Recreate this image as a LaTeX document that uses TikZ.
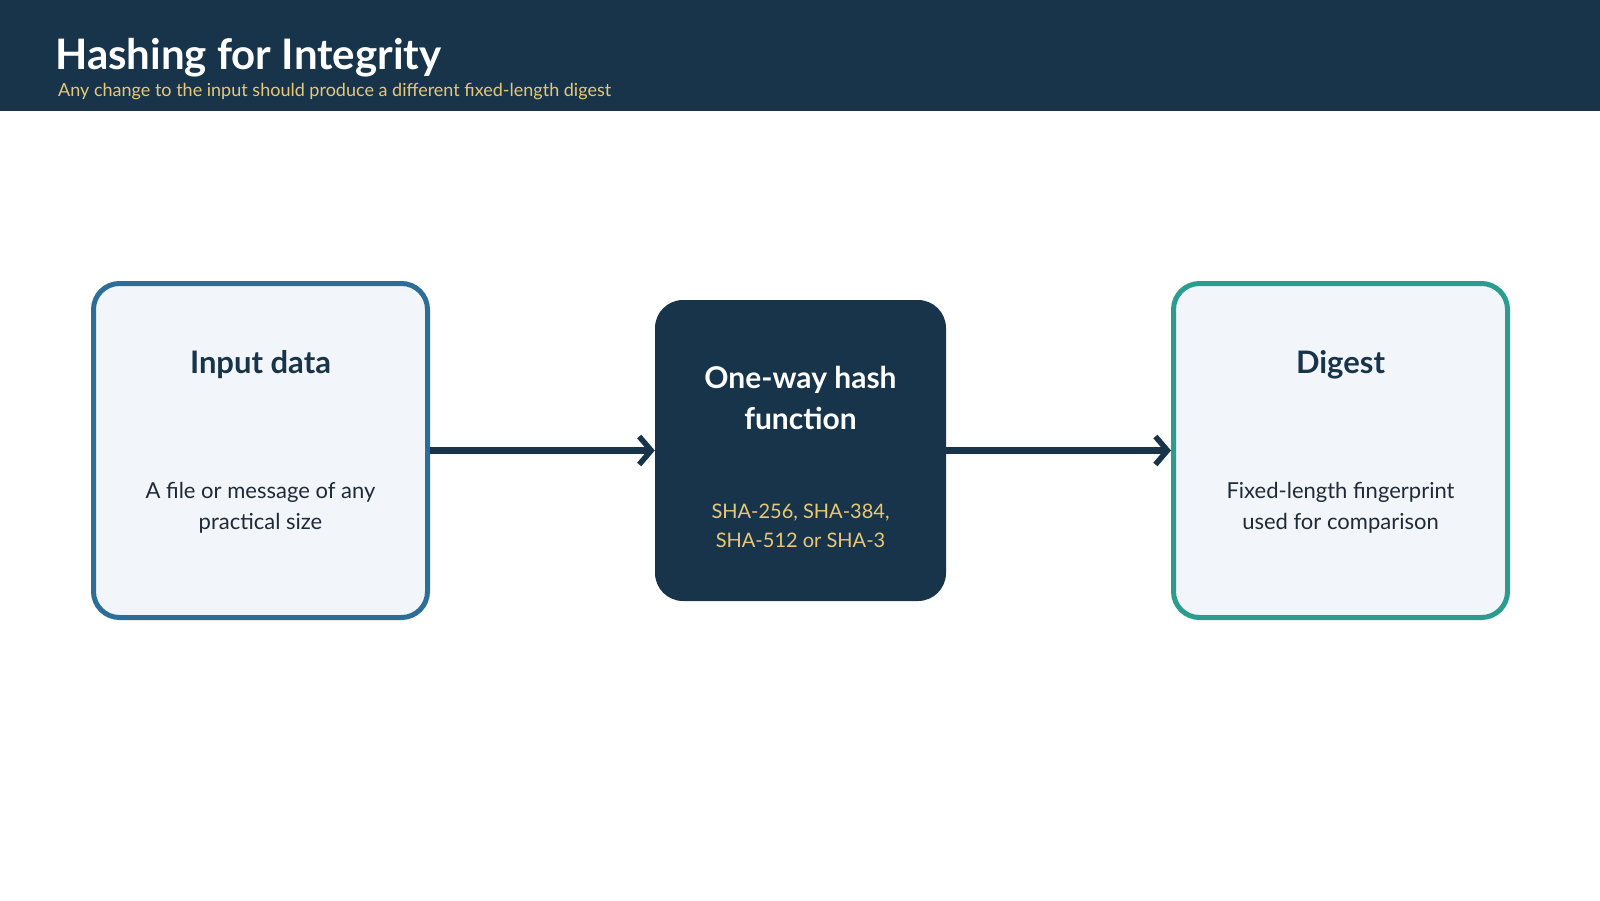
\documentclass[tikz,border=0pt]{standalone}
\usepackage{fontspec}
\setmainfont{Lato}
\usetikzlibrary{arrows.meta}
\definecolor{navy}{HTML}{17344B}
\definecolor{blueedge}{HTML}{2D6E99}
\definecolor{tealedge}{HTML}{2A9D8F}
\definecolor{boxfill}{HTML}{F2F6FA}
\definecolor{bodytext}{HTML}{1F2A37}
\definecolor{gold}{HTML}{E8C878}
\begin{document}
\begin{tikzpicture}[x=1pt,y=-1pt,
  lightbox/.style={rectangle, rounded corners=26pt, fill=boxfill, line width=5pt,
    minimum width=334pt, minimum height=334pt, inner sep=0pt},
  darkbox/.style={rectangle, rounded corners=28pt, fill=navy,
    minimum width=291pt, minimum height=301pt, inner sep=0pt},
  boxtitle/.style={anchor=base, inner sep=0pt, font=\fontsize{31}{36}\selectfont\bfseries, text=navy},
  boxbody/.style={anchor=base, inner sep=0pt, font=\fontsize{22}{26}\selectfont, text=bodytext},
  conn/.style={draw=navy, line width=7.5pt, -{Straight Barb[length=12pt, width=28pt, line width=5.5pt]}}
]
\useasboundingbox (0,0) rectangle (1600,900);
\fill[navy] (0,0) rectangle (1600,111);
\node[anchor=base west, inner sep=0pt, text=white, font=\fontsize{42}{50}\selectfont\bfseries] (title) at (55,69) {Hashing for Integrity};
\node[anchor=base west, inner sep=0pt, text=gold, font=\fontsize{18}{21}\selectfont] (subtitle) at (58,96.5) {Any change to the input should produce a different fixed-length digest};

\node[lightbox, draw=blueedge] (inbox) at (260.5,450.5) {};
\node[darkbox] (hash) at (800.5,450.5) {};
\node[lightbox, draw=tealedge] (digest) at (1340.5,450.5) {};

\node[boxtitle] (intitle) at (260.5,373) {Input data};
\node[boxbody] (inbody1) at (260.5,498) {A file or message of any};
\node[boxbody] (inbody2) at (260.5,529) {practical size};

\node[boxtitle, text=white, font=\fontsize{30}{36}\selectfont\bfseries] (hashtitle1) at (800.5,388.5) {One-way hash};
\node[boxtitle, text=white, font=\fontsize{30}{36}\selectfont\bfseries] (hashtitle2) at (800.5,429.5) {function};
\node[boxbody, text=gold, font=\fontsize{20}{23}\selectfont] (hashbody1) at (800.5,518) {SHA-256, SHA-384,};
\node[boxbody, text=gold, font=\fontsize{20}{23}\selectfont] (hashbody2) at (800.5,547) {SHA-512 or SHA-3};

\node[boxtitle] (digtitle) at (1340.5,373) {Digest};
\node[boxbody] (digbody1) at (1340.5,498) {Fixed-length fingerprint};
\node[boxbody] (digbody2) at (1340.5,529) {used for comparison};

\draw[conn] (inbox.east) -- (hash.west);
\draw[conn] (hash.east) -- (digest.west);
\end{tikzpicture}
\end{document}
